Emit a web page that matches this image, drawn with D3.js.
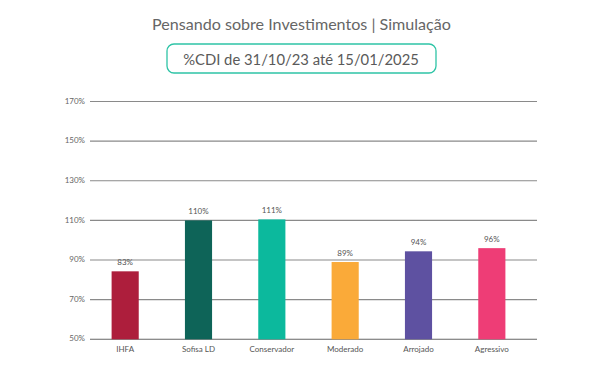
<!DOCTYPE html>
<html><head><meta charset="utf-8">
<script src="https://cdn.jsdelivr.net/npm/d3@7"></script>
<style>body{margin:0;background:#fff}svg{display:block}text{font-family:Lato,"Open Sans",sans-serif}</style>
</head><body><svg id="c" width="600" height="370"></svg>
<script>
const categories = ["IHFA","Sofisa LD","Conservador","Moderado","Arrojado","Agressivo"];
const values = [84.3,110,110.5,89,94.4,96];
const valueLabels = ["83%","110%","111%","89%","94%","96%"];
const colors = ["#AD1E3C","#0E6458","#0CB99D","#FAAA39","#5E51A1","#EE3D76"];
const yTicks = [50,70,90,110,130,150,170];
const title = "Pensando sobre Investimentos | Simulação";
const subtitle = "%CDI de 31/10/23 até 15/01/2025";

const svg = d3.select("#c");
const x = d3.scaleBand().domain(categories).range([88.5,528.5]).paddingInner(0.63).paddingOuter(0.315);
const y = d3.scaleLinear().domain([50,170]).range([339.3,101.5]);

svg.append("text").attr("x",301.5).attr("y",29.5).attr("text-anchor","middle")
  .attr("font-size",16.1).attr("fill","#666").text(title);
svg.append("rect").attr("x",167).attr("y",44).attr("width",269).attr("height",29).attr("rx",7)
  .attr("fill","#fff").attr("stroke","#2EC4A6").attr("stroke-width",1.3);
svg.append("text").attr("x",301).attr("y",64.5).attr("text-anchor","middle")
  .attr("font-size",14.8).attr("fill","#5a5a5a").text(subtitle);

const yAxis = d3.axisLeft(y).tickValues(yTicks).tickSize(0).tickPadding(4).tickFormat(d=>d+"%");
const ga = svg.append("g").attr("transform","translate(89,0)").call(yAxis);
ga.select(".domain").remove();
ga.selectAll("text").attr("font-size",8).attr("fill","#666").attr("dy","0.2em");

svg.append("g").selectAll("line").data(yTicks).join("line")
  .attr("x1",90).attr("x2",537).attr("y1",d=>y(d)).attr("y2",d=>y(d))
  .attr("stroke",d=>d===50?"#666":"#8a8a8a").attr("stroke-width",1.1);

svg.append("g").selectAll("rect").data(categories).join("rect")
  .attr("x",d=>x(d)).attr("width",x.bandwidth())
  .attr("y",(d,i)=>y(values[i])).attr("height",(d,i)=>y(50)-y(values[i]))
  .attr("fill",(d,i)=>colors[i]);

svg.append("g").selectAll("text").data(categories).join("text")
  .attr("x",d=>x(d)+x.bandwidth()/2).attr("y",(d,i)=>y(values[i])-6)
  .attr("text-anchor","middle").attr("font-size",8).attr("fill","#555")
  .text((d,i)=>valueLabels[i]);

const xAxis = d3.axisBottom(x).tickSize(0).tickPadding(7);
const gx = svg.append("g").attr("transform","translate(0,339.3)").call(xAxis);
gx.select(".domain").remove();
gx.selectAll("text").attr("font-size",8).attr("fill","#555").attr("font-family","Lato,sans-serif");
</script></body></html>
